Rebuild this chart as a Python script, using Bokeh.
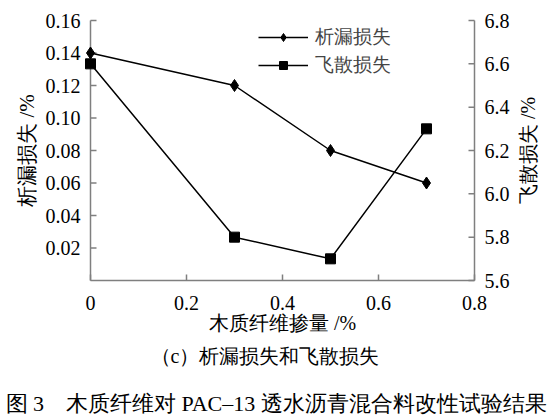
import math
from bokeh.plotting import figure
from bokeh.models import Range1d, Legend, LegendItem
from bokeh.embed import file_html
from bokeh.resources import INLINE
from bokeh.core.properties import value

# ---- data ----
fiber_content = [0, 0.3, 0.5, 0.7]           # 木质纤维掺量 /%
drain_loss = [0.14, 0.12, 0.08, 0.06]         # 析漏损失 /%
scatter_loss = [6.6, 5.8, 5.7, 6.3]           # 飞散损失 /%
x_limits = [0, 0.8]
left_limits = [0, 0.16]
right_limits = [5.6, 6.8]
x_ticks = [0, 0.2, 0.4, 0.6, 0.8]
x_tick_labels = ["0", "0.2", "0.4", "0.6", "0.8"]
left_ticks = [0.02, 0.04, 0.06, 0.08, 0.10, 0.12, 0.14, 0.16]
left_tick_labels = ["0.02", "0.04", "0.06", "0.08", "0.10", "0.12", "0.14", "0.16"]
right_ticks = [5.6, 5.8, 6.0, 6.2, 6.4, 6.6, 6.8]
right_tick_labels = ["5.6", "5.8", "6.0", "6.2", "6.4", "6.6", "6.8"]
series_names = ["析漏损失", "飞散损失"]
x_label = "木质纤维掺量 /%"
left_label = "析漏损失 /%"
right_label = "飞散损失 /%"
caption = "（c）析漏损失和飞散损失"
fig_title = "图 3\u3000木质纤维对 PAC–13 透水沥青混合料改性试验结果"

# ---- layout (pixels) ----
W, H = 548, 419
FL, FR, FT, FB = 90, 474, 20, 280      # plot area edges on the canvas
FONT = "Liberation Serif"
AX = "#7f7f7f"

sx = (x_limits[1] - x_limits[0]) / (FR - FL)
sl = (left_limits[1] - left_limits[0]) / (FB - FT)
sr = (right_limits[1] - right_limits[0]) / (FB - FT)

p = figure(width=W, height=H, output_backend="svg", toolbar_location=None,
           x_range=Range1d(x_limits[0] - FL * sx, x_limits[1] + (W - FR) * sx),
           y_range=Range1d(left_limits[0] - (H - FB) * sl, left_limits[1] + FT * sl),
           min_border=0, x_axis_type=None, y_axis_type=None)
p.extra_y_ranges = {"right": Range1d(right_limits[0] - (H - FB) * sr,
                                     right_limits[1] + FT * sr)}
p.outline_line_color = None
p.background_fill_color = "white"
p.border_fill_color = "white"
p.grid.visible = False

xl, xr = x_limits
yb = left_limits[0]

# axis lines
p.line(x=x_limits, y=[yb, yb], line_color=AX, line_width=1.5)
p.line(x=[xl, xl], y=left_limits, line_color=AX, line_width=1.5)
p.line(x=[xr, xr], y=right_limits, line_color=AX, line_width=1.5,
       y_range_name="right")

# inward ticks
p.ray(x=x_ticks, y=[yb] * len(x_ticks), length=6, length_units="screen",
      angle=math.pi / 2, line_color=AX, line_width=1.5)
p.ray(x=[xl] * len(left_ticks), y=left_ticks, length=6, length_units="screen",
      angle=0, line_color=AX, line_width=1.5)
p.ray(x=[xr] * len(right_ticks), y=right_ticks, length=6, length_units="screen",
      angle=math.pi, line_color=AX, line_width=1.5, y_range_name="right")

tick_style = dict(text_font=value(FONT), text_font_size="20px",
                  text_color="black", text_baseline="middle")
p.text(x=x_ticks, y=[yb] * len(x_ticks), text=x_tick_labels, y_offset=22,
       text_align="center", **tick_style)
p.text(x=[xl] * len(left_ticks), y=left_ticks, text=left_tick_labels,
       x_offset=-10, text_align="right", **tick_style)
p.text(x=[xr] * len(right_ticks), y=right_ticks, text=right_tick_labels,
       x_offset=10, text_align="left", y_range_name="right", **tick_style)

# axis titles
p.text(x=[(xl + xr) / 2], y=[yb], text=[x_label], y_offset=42,
       text_align="center", text_baseline="middle", text_font=value(FONT),
       text_font_size="20px", text_color="black")
p.text(x=[xl], y=[sum(left_limits) / 2], text=[left_label], x_offset=-64,
       angle=math.pi / 2, text_align="center", text_baseline="middle",
       text_font=value(FONT), text_font_size="21px", text_color="black")
p.text(x=[xr], y=[sum(right_limits) / 2], text=[right_label], x_offset=53,
       angle=math.pi / 2, text_align="center", text_baseline="middle",
       text_font=value(FONT), text_font_size="20px", text_color="black",
       y_range_name="right")

# caption and figure title
p.text(x=[xl], y=[yb], text=[caption], x_offset=60, y_offset=75,
       text_align="left", text_baseline="middle", text_font=value(FONT),
       text_font_size="20px", text_color="black")
p.text(x=[xl], y=[yb], text=[fig_title], x_offset=-85, y_offset=123,
       text_align="left", text_baseline="middle", text_font=value(FONT),
       text_font_size="22px", text_color="black")

# data
l1 = p.line(fiber_content, drain_loss, line_color="black", line_width=1.5)
m1 = p.scatter(fiber_content, drain_loss, marker="diamond", size=12,
               fill_color="black", line_color="black")
l2 = p.line(fiber_content, scatter_loss, line_color="black", line_width=1.5,
            y_range_name="right")
m2 = p.scatter(fiber_content, scatter_loss, marker="square", size=10,
               fill_color="black", line_color="black", y_range_name="right")

legend = Legend(items=[LegendItem(label=series_names[0], renderers=[l1, m1]),
                       LegendItem(label=series_names[1], renderers=[l2, m2])],
                location=(258, 341), border_line_color=None,
                background_fill_alpha=0, padding=0, margin=0, spacing=2,
                glyph_width=50, glyph_height=20, label_height=20,
                label_standoff=7, label_text_font=FONT,
                label_text_font_size="19px")
p.add_layout(legend, "center")

open("out.html", "w").write(file_html(p, INLINE))
